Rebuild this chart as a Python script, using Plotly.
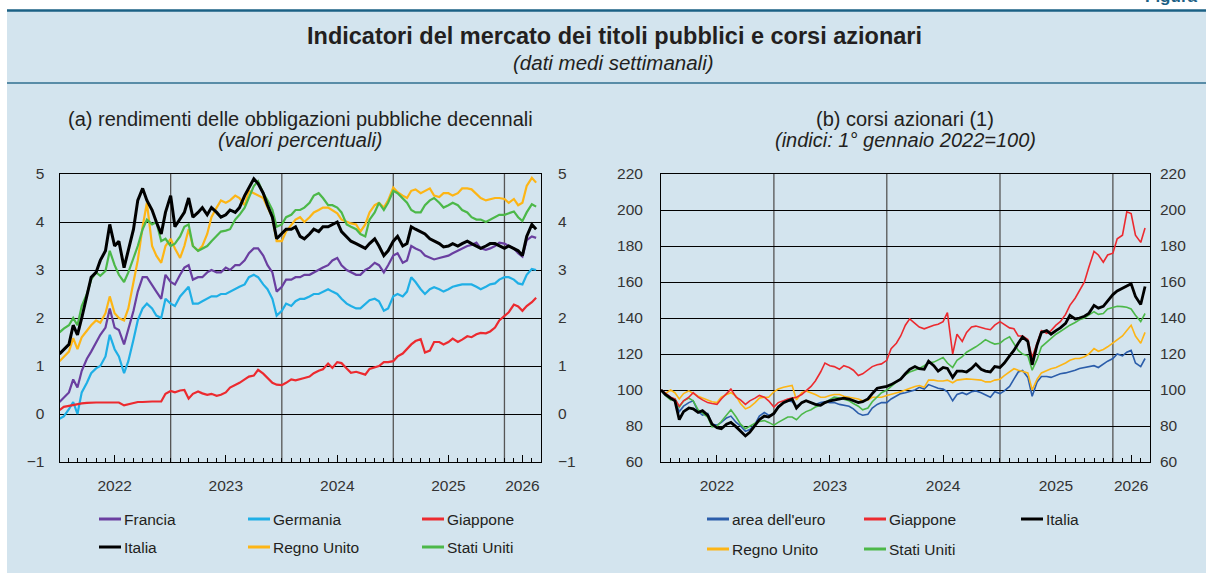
import plotly.graph_objects as go
import pandas as pd

# ---------------- data (semi-monthly readings, Jan 2022 - Apr 2026) ----------------
dates = pd.date_range("2022-01-01", periods=104, freq="SMS")

# (a) 10-year government bond yields (%)
francia = [0.25,0.35,0.45,0.72,0.55,0.9,1.15,1.3,1.5,1.65,1.8,2.2,1.8,1.75,1.45,1.75,2.15,2.55,2.85,2.85,2.7,2.55,2.4,2.9,
           2.75,2.7,2.9,3.05,3.1,2.8,2.85,2.85,2.95,3.0,2.95,2.95,3.05,3.0,3.1,3.1,3.2,3.35,3.45,3.45,3.3,3.1,2.95,2.55,
           2.65,2.8,2.8,2.85,2.85,2.9,2.9,2.95,3.0,3.05,3.1,3.2,3.25,3.1,3.0,2.95,2.9,2.9,3.0,3.05,3.15,3.1,2.95,3.1,
           3.3,3.35,3.15,3.2,3.5,3.45,3.4,3.3,3.25,3.22,3.25,3.27,3.3,3.35,3.4,3.45,3.5,3.52,3.57,3.45,3.42,3.45,3.5,3.57,
           3.55,3.5,3.45,3.35,3.28,3.62,3.7,3.67]
germania = [-0.1,-0.05,0.1,0.25,0.0,0.45,0.65,0.85,0.95,1.0,1.2,1.65,1.35,1.2,0.85,1.1,1.55,1.95,2.2,2.3,2.2,2.05,2.0,2.4,
            2.3,2.25,2.45,2.55,2.65,2.3,2.3,2.35,2.4,2.45,2.45,2.5,2.5,2.55,2.6,2.65,2.7,2.85,2.9,2.85,2.7,2.6,2.4,2.05,
            2.15,2.3,2.25,2.35,2.4,2.4,2.45,2.5,2.5,2.55,2.6,2.55,2.5,2.4,2.3,2.25,2.2,2.2,2.3,2.37,2.4,2.35,2.15,2.2,
            2.45,2.5,2.45,2.55,2.85,2.75,2.6,2.5,2.6,2.64,2.6,2.55,2.6,2.65,2.68,2.7,2.7,2.7,2.65,2.6,2.65,2.7,2.72,2.8,
            2.85,2.85,2.8,2.72,2.7,2.9,3.02,3.0]
giappone_y = [0.08,0.15,0.17,0.19,0.2,0.22,0.23,0.24,0.24,0.24,0.24,0.24,0.24,0.24,0.18,0.2,0.23,0.25,0.25,0.26,0.26,0.26,0.26,0.42,
              0.48,0.45,0.49,0.5,0.32,0.42,0.47,0.43,0.4,0.42,0.38,0.4,0.45,0.55,0.6,0.65,0.72,0.78,0.8,0.92,0.84,0.75,0.65,0.61,
              0.6,0.65,0.72,0.7,0.72,0.75,0.78,0.85,0.9,0.93,1.05,0.96,1.08,1.06,0.95,0.86,0.88,0.85,0.82,0.94,0.97,1.0,1.08,1.08,
              1.1,1.2,1.26,1.36,1.45,1.52,1.56,1.28,1.32,1.5,1.5,1.45,1.5,1.57,1.5,1.55,1.62,1.6,1.66,1.69,1.68,1.72,1.8,1.95,
              2.05,2.12,2.28,2.24,2.15,2.25,2.33,2.42]
italia_y = [1.25,1.35,1.45,1.85,1.65,2.0,2.45,2.85,2.95,3.2,3.4,3.95,3.5,3.6,3.05,3.4,3.85,4.45,4.7,4.45,4.25,4.0,3.75,4.2,
            4.55,3.9,4.05,4.2,4.5,4.1,4.2,4.3,4.15,4.3,4.2,4.1,4.15,4.25,4.2,4.3,4.55,4.7,4.9,4.8,4.6,4.35,4.1,3.65,
            3.75,3.85,3.85,3.9,3.7,3.65,3.75,3.85,3.8,3.9,3.9,3.95,4.0,3.8,3.7,3.6,3.55,3.5,3.45,3.55,3.65,3.5,3.3,3.4,
            3.6,3.7,3.5,3.55,3.9,3.85,3.8,3.75,3.65,3.6,3.55,3.48,3.5,3.55,3.5,3.55,3.6,3.55,3.5,3.45,3.5,3.55,3.55,3.5,
            3.45,3.5,3.45,3.4,3.3,3.7,3.95,3.85]
regno_unito_y = [1.1,1.2,1.3,1.58,1.35,1.6,1.75,1.85,1.95,1.9,2.1,2.45,2.1,2.0,1.95,2.2,2.75,3.2,3.9,4.4,3.5,3.3,3.15,3.5,
                 3.65,3.45,3.25,3.5,3.85,3.5,3.4,3.5,3.75,4.1,4.3,4.45,4.4,4.45,4.55,4.5,4.35,4.65,4.6,4.55,4.5,4.3,4.1,3.6,
                 3.6,3.8,3.95,4.05,4.1,4.0,4.1,4.2,4.25,4.3,4.3,4.25,4.18,4.05,4.0,3.97,3.95,3.8,3.95,4.2,4.35,4.4,4.3,4.45,
                 4.72,4.62,4.55,4.5,4.65,4.68,4.6,4.65,4.7,4.55,4.52,4.6,4.6,4.55,4.6,4.7,4.7,4.68,4.58,4.5,4.45,4.48,4.5,4.5,
                 4.48,4.4,4.48,4.35,4.4,4.75,4.92,4.82]
stati_uniti_y = [1.7,1.78,1.85,2.0,1.85,2.25,2.5,2.8,2.95,2.88,2.98,3.4,3.1,2.9,2.75,2.95,3.25,3.5,3.85,4.05,3.95,4.0,3.6,3.65,
                 3.5,3.55,3.7,3.9,3.95,3.5,3.4,3.45,3.5,3.6,3.7,3.8,3.82,3.85,4.05,4.15,4.3,4.5,4.75,4.85,4.6,4.45,4.25,3.9,
                 3.95,4.1,4.15,4.25,4.25,4.3,4.4,4.55,4.6,4.5,4.35,4.35,4.3,4.2,3.95,3.9,3.85,3.75,3.7,4.05,4.2,4.4,4.25,4.4,
                 4.65,4.6,4.5,4.4,4.25,4.2,4.2,4.35,4.45,4.5,4.4,4.3,4.35,4.4,4.35,4.25,4.2,4.1,4.05,4.05,4.0,4.05,4.1,4.15,
                 4.15,4.18,4.22,4.1,4.02,4.2,4.37,4.32]

# (b) stock price indices (1 Jan 2022 = 100)
area_euro_s = [100,98,95.5,94,88,91,93,94,88,86,87,81,80.5,82,84.5,85.5,82,80,77,78,81,85.5,87.5,86,
               86.5,91,93,94,93.5,91,93,94,93,92,93,93.5,93,93,92,91.5,91,89.5,87,86,86.5,90,92,93,
               93,95,96.5,98,98.5,99,100,101.5,100.5,103,102,101,100.5,99,94,97.5,98.5,97.5,99,99.5,98.5,97.5,96,99,
               98,99.5,102,106,110,110.8,107,96.5,104.5,107.5,107.5,107,108,109,109.5,110,111,112,112.5,113,113.5,112.5,114.5,116,
               117.5,120,119,121,122,115,113,117.5]
giappone_s = [100,98,96,95,91,94,96,98.5,96,94.5,93,92.5,92,95,98,100.5,96,94.5,92,94,95.5,97,96,94,
              90.5,93,94,95,95.5,96,97.5,99.5,102,105,110,115,113.5,113,111.5,113.5,112.5,111,108,109,111,113,114,114.5,
              116.5,123,126,130,136,139.5,137,135,134,135,136,136.5,138,143,120,131,127,132,135,135.5,134.5,134,133.5,136,
              138,136.5,134.5,134,130,130,128,118,126,133,131.5,133,136,138,142,147,151,155,160,168,177,175,171,175,
              176,184,186,199,198,186,182,190]
italia_s = [100,97.5,95.5,94,83.5,88,90,89.5,87.5,88.5,86,81,79,78.5,81,82,79.5,77,74.5,76.5,80,83.5,85.5,85,
            87,90.5,93,94,95,90,93,94,93,92,91.5,93,94,94.5,95,95.5,95,94,93,93.5,95,98,101,101.5,
            102,103,104.5,106,109,111.5,113,111.8,111.5,116,113.5,110.5,112.5,112,107,110.5,110.5,110,112,114.5,111.5,110.5,110,113,
            112.5,115,119,122,126,129.5,127,114,125,132,133,131,133,134.5,137,141.5,139.5,140,141,142.5,147,145.5,146.5,149.5,
            153,155,156.5,157.8,159,152,147.5,157.5]
regno_unito_s = [100,98,100,98.5,95,98,99.5,98,96.5,95.5,94.5,93.5,93,96,97.5,98.5,96.5,92.5,89.5,90.5,93,95.5,96,96,
                 99,100.5,101.5,102,102.5,94.5,98.5,99.5,98.5,97.5,96,96,97,97.5,97.5,96.5,96,95.5,95,94,94.5,96,96,96,
                 97,97.5,98.5,99,100,101,102,102.5,101.5,105.5,105.5,105,105,105.5,104,105.5,106,106.2,106,105.8,105.5,104.5,104.5,105.5,
                 106,108,110,111.8,111,110.5,109.5,100,106,109.5,111,111.8,112.5,113.5,115,116.5,117.5,117.5,118.5,120,123,121.5,122.5,124,
                 126,128,130,133,136,130,126,132]
stati_uniti_s = [100,97,94.5,95,90.5,94,95.5,94,89,87,85,79.5,80,82.5,86,89,85,81,78.5,80,81.5,82.5,83,82,
                 80.5,82,83.5,85,85,83.5,86.5,88,89,90.5,91.5,93,94.5,96,95.5,95,94,92.5,91,89,90,93.5,96,98.5,
                 100,102,104,106,108.5,110,111,112,113.5,115,115.5,116.5,118,115,112.5,116.5,118.5,121,122.5,124,126,128,126.5,125.5,
                 126,128,129.5,126,122,120,119,111,117,124,126.5,128.5,131,132.5,134.5,136,137.5,139,140,141.5,143.5,142,142.5,145,
                 146,146.5,146.3,146,145,141.5,138,142.5]

years = [2022, 2023, 2024, 2025, 2026]
year_label_dates = ["2022-07-01", "2023-07-01", "2024-07-01", "2025-07-01", "2026-03-01"]
year_starts = ["2023-01-01", "2024-01-01", "2025-01-01", "2026-01-01"]
x_range = ["2022-01-01", "2026-05-01"]

for s in [francia, germania, giappone_y, italia_y, regno_unito_y, stati_uniti_y,
          area_euro_s, giappone_s, italia_s, regno_unito_s, stati_uniti_s]:
    assert len(s) == len(dates), len(s)

# ---------------- styling ----------------
W, H = 1206, 575
FONT = "Liberation Sans, Arial, sans-serif"
TXT = "#231f20"
C = {"Francia": "#6a3fa0", "Germania": "#1fafe6", "Giappone": "#ec2a2f", "Italia": "#000000",
     "Regno Unito": "#fdb515", "Stati Uniti": "#4cb849", "area dell'euro": "#2b5daa"}

left_series = [("Francia", francia), ("Germania", germania), ("Giappone", giappone_y),
               ("Regno Unito", regno_unito_y), ("Stati Uniti", stati_uniti_y), ("Italia", italia_y)]
right_series = [("area dell'euro", area_euro_s), ("Regno Unito", regno_unito_s), ("Stati Uniti", stati_uniti_s),
                ("Giappone", giappone_s), ("Italia", italia_s)]

def px(x):
    return x / W

def py(y):
    return 1 - y / H

fig = go.Figure()
for name, vals in left_series:
    fig.add_trace(go.Scatter(x=dates, y=vals, mode="lines", name=name, xaxis="x", yaxis="y",
                             line=dict(color=C[name], width=3 if name == "Italia" else 2.2),
                             showlegend=False, hoverinfo="skip"))
fig.add_trace(go.Scatter(x=[], y=[], xaxis="x", yaxis="y2", showlegend=False))
for name, vals in right_series:
    fig.add_trace(go.Scatter(x=dates, y=vals, mode="lines", name=name, xaxis="x2", yaxis="y3",
                             line=dict(color=C[name], width=2.8 if name == "Italia" else 1.6),
                             showlegend=False, hoverinfo="skip"))
fig.add_trace(go.Scatter(x=[], y=[], xaxis="x2", yaxis="y4", showlegend=False))

ydom = [py(462), py(174)]
tickfont = dict(family=FONT, size=15.5, color="#333333")

def xaxis(domain, anchor):
    return dict(domain=domain, anchor=anchor, type="date", range=x_range, automargin=False,
                tickvals=year_label_dates, ticktext=[str(y) for y in years],
                ticks="inside", ticklen=7, tickwidth=1, tickcolor="black",
                minor=dict(ticks="inside", ticklen=4, tickwidth=1, tickcolor="black",
                           dtick="M1", tick0="2022-01-01", showgrid=False),
                showline=True, linecolor="black", linewidth=1, mirror=True,
                showgrid=False, zeroline=False, tickfont=tickfont, ticklabelstandoff=9)

def yaxis(domain, anchor, rng, dt, side="left", overlay=None, standoff=10, grid=True):
    d = dict(domain=domain, anchor=anchor, range=rng, dtick=dt, tick0=0, side=side, automargin=False,
             showgrid=grid, gridcolor="black", gridwidth=1, zeroline=False,
             showline=grid, linecolor="black", linewidth=1, mirror=grid,
             ticks="", tickfont=tickfont, ticklabelstandoff=standoff)
    if overlay:
        d["overlaying"] = overlay
    return d

layout = dict(
    width=W, height=H, autosize=False,
    margin=dict(l=0, r=0, t=0, b=0, pad=0, autoexpand=False),
    paper_bgcolor="white", plot_bgcolor="white", showlegend=False,
    xaxis=xaxis([px(59.5), px(541)], "y"),
    yaxis=yaxis(ydom, "x", [-1, 5], 1, standoff=11),
    yaxis2=yaxis(ydom, "x", [-1, 5], 1, side="right", overlay="y", standoff=16, grid=False),
    xaxis2=xaxis([px(661), px(1150)], "y3"),
    yaxis3=yaxis(ydom, "x2", [60, 220], 20, standoff=14),
    yaxis4=yaxis(ydom, "x2", [60, 220], 20, side="right", overlay="y3", standoff=9, grid=False),
)
fig.update_layout(**layout)

shapes = []
# panel background and rules
shapes.append(dict(type="rect", xref="paper", yref="paper", x0=px(7), x1=1, y0=py(573), y1=py(11),
                   fillcolor="#d3e4ee", line=dict(width=0), layer="below"))
shapes.append(dict(type="line", xref="paper", yref="paper", x0=px(7), x1=1, y0=py(10.5), y1=py(10.5),
                   line=dict(color="#1b6185", width=2.5), layer="above"))
shapes.append(dict(type="line", xref="paper", yref="paper", x0=px(7), x1=1, y0=py(83), y1=py(83),
                   line=dict(color="#2f6f8f", width=1.5), layer="above"))
# vertical year gridlines
for xr, yr in [("x", "y domain"), ("x2", "y3 domain")]:
    for d in year_starts:
        shapes.append(dict(type="line", xref=xr, yref=yr, x0=d, x1=d, y0=0, y1=1,
                           line=dict(color="#555555", width=1.3), layer="below"))

annotations = []
def text(x, y, s, size=16, bold=False, italic=False, xanchor="center", color=TXT):
    if bold:
        s = "<b>" + s + "</b>"
    if italic:
        s = "<i>" + s + "</i>"
    annotations.append(dict(x=px(x), y=py(y), xref="paper", yref="paper", text=s, showarrow=False,
                            xanchor=xanchor, yanchor="middle",
                            font=dict(family=FONT, size=size, color=color)))

text(614, 36, "Indicatori del mercato dei titoli pubblici e corsi azionari", size=23.5, bold=True)
text(613, 62, "(dati medi settimanali)", size=20.5, italic=True)
text(300, 119, "(a) rendimenti delle obbligazioni pubbliche decennali", size=20)
text(300, 140, "(valori percentuali)", size=20, italic=True)
text(905, 119, "(b) corsi azionari (1)", size=20)
text(905, 140, "(indici: 1° gennaio 2022=100)", size=20, italic=True)
annotations.append(dict(x=px(1199), y=py(8), xref="paper", yref="paper", text="<b>Figura</b>",
                        showarrow=False, xanchor="right", yanchor="bottom",
                        font=dict(family=FONT, size=17, color="#1b6185")))

# manual legends
left_legend = ["Francia", "Germania", "Giappone", "Italia", "Regno Unito", "Stati Uniti"]
right_legend = ["area dell'euro", "Giappone", "Italia", "Regno Unito", "Stati Uniti"]
def legend(names, cols, rows):
    for i, name in enumerate(names):
        x0 = cols[i % 3]
        y0 = rows[i // 3]
        shapes.append(dict(type="line", xref="paper", yref="paper", x0=px(x0), x1=px(x0 + 22),
                           y0=py(y0), y1=py(y0), line=dict(color=C[name], width=3)))
        text(x0 + 23, y0, name, size=15.5, xanchor="left")

legend(left_legend, [99, 248, 422], [519, 547])
legend(right_legend, [707, 864, 1021], [519, 549])

fig.update_layout(shapes=shapes, annotations=annotations)

fig.write_html("out.html", include_plotlyjs=True, full_html=True,
               config={"displayModeBar": False, "responsive": False},
               post_script="document.body.style.margin='0';document.body.style.overflow='hidden';")
